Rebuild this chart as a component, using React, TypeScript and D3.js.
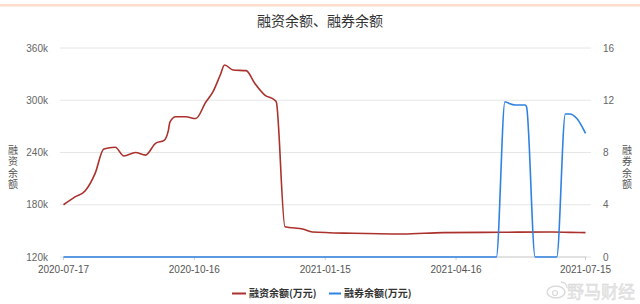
import React from "react";
import * as d3 from "d3";

const W = 640;
const H = 304;

const titleText = "融资余额、融券余额";
const leftAxisTitle = "融资余额";
const rightAxisTitle = "融券余额";
const legendLabels = ["融资余额(万元)", "融券余额(万元)"];
const xTickDates = ["2020-07-17", "2020-10-16", "2021-01-15", "2021-04-16", "2021-07-15"];
const leftTicks = [120000, 180000, 240000, 300000, 360000];
const rightTicks = [0, 4, 8, 12, 16];

// 融资余额 (万元)
const financeDates = [
  "2020-07-17", "2020-07-25", "2020-08-01", "2020-08-08", "2020-08-14", "2020-08-22",
  "2020-08-28", "2020-09-05", "2020-09-12", "2020-09-19", "2020-09-25", "2020-09-28",
  "2020-09-29", "2020-10-03", "2020-10-10", "2020-10-17", "2020-10-24", "2020-10-29",
  "2020-11-03", "2020-11-06", "2020-11-12", "2020-11-21", "2020-11-27", "2020-12-04",
  "2020-12-11", "2020-12-12", "2020-12-18", "2020-12-31", "2021-01-06", "2021-02-03",
  "2021-03-10", "2021-04-07", "2021-05-18", "2021-06-22", "2021-07-04", "2021-07-15",
];
const financeValues = [
  180000, 189000, 195800, 216000, 244000, 246000,
  236000, 240000, 237000, 250500, 254000, 266000,
  275000, 281000, 281000, 279000, 298000, 310000,
  329000, 340500, 334700, 334000, 319500, 306000,
  300000, 298000, 154800, 151800, 148700, 147200,
  146400, 148000, 148400, 148700, 148300, 148000,
];

// 融券余额 (万元)
const lendDates = [
  "2020-07-17", "2021-05-14", "2021-05-20", "2021-05-22", "2021-05-27", "2021-06-03",
  "2021-06-04", "2021-06-10", "2021-06-25", "2021-07-01", "2021-07-04", "2021-07-09",
  "2021-07-15",
];
const lendValues = [0, 0, 11.89, 11.8, 11.64, 11.64, 11.5, 0, 0, 10.95, 10.95, 10.6, 9.47];

const RED = "#ab312c";
const BLUE = "#2f82e2";
const FONT = "'Noto Sans CJK SC', 'Noto Sans', sans-serif";
const NUM_FONT = "'Liberation Sans', Arial, sans-serif";

export default function App() {
  const parse = d3.utcParse("%Y-%m-%d");
  const plotLeft = 63.5;
  const plotRight = 585.5;
  const gridLeft = 60;
  const gridRight = 591;
  const top = 48;
  const bottom = 257;

  const x = d3
    .scaleUtc()
    .domain([parse(xTickDates[0])!, parse(xTickDates[xTickDates.length - 1])!])
    .range([plotLeft, plotRight]);
  const yL = d3.scaleLinear().domain([120000, 360000]).range([bottom, top]);
  const yR = d3.scaleLinear().domain([0, 16]).range([bottom, top]);

  const finance = financeDates.map((d, i) => ({ d: parse(d)!, v: financeValues[i] }));
  const lend = lendDates.map((d, i) => ({ d: parse(d)!, v: lendValues[i] }));

  const redLine = d3
    .line<{ d: Date; v: number }>()
    .x((p) => x(p.d))
    .y((p) => yL(p.v))
    .curve(d3.curveMonotoneX);
  const blueLine = d3
    .line<{ d: Date; v: number }>()
    .x((p) => x(p.d))
    .y((p) => yR(p.v))
    .curve(d3.curveMonotoneX);

  const fmtK = (v: number) => `${v / 1000}k`;

  const verticalTitle = (label: string, cx: number) => (
    <text
      x={cx}
      y={145}
      fontSize={10}
      fill="#555"
      style={{ writingMode: "vertical-rl", letterSpacing: "1.5px" }}
    >
      {label}
    </text>
  );

  return (
    <svg
      width={W}
      height={H}
      style={{ position: "absolute", left: 0, top: 0, display: "block", background: "#fff" }}
      fontFamily={FONT}
    >
      <rect x={0} y={0} width={W} height={H} fill="#fff" />
      <rect x={0} y={4} width={W} height={2.5} fill="#fddccb" />
      <text x={320} y={26} textAnchor="middle" fontSize={14} fill="#333">
        {titleText}
      </text>

      {leftTicks.map((t) => (
        <line key={"g" + t} x1={gridLeft} x2={gridRight} y1={yL(t)} y2={yL(t)} stroke="#e6e6e6" strokeWidth={1} />
      ))}
      {leftTicks.map((t) => (
        <text key={"l" + t} x={48} y={yL(t)} dy="0.35em" textAnchor="end" fontSize={10} fill="#666" fontFamily={NUM_FONT}>
          {fmtK(t)}
        </text>
      ))}
      {rightTicks.map((t) => (
        <text key={"r" + t} x={603} y={yR(t)} dy="0.35em" textAnchor="start" fontSize={10} fill="#666" fontFamily={NUM_FONT}>
          {t}
        </text>
      ))}

      {verticalTitle(leftAxisTitle, 13)}
      {verticalTitle(rightAxisTitle, 627)}

      <line x1={plotLeft} x2={plotRight + 1} y1={bottom} y2={bottom} stroke="#d0d0d0" />
      {xTickDates.map((d) => {
        const px = x(parse(d)!);
        return (
          <g key={"x" + d}>
            <line x1={px} x2={px} y1={bottom} y2={bottom + 3} stroke="#ccc" />
            <text x={px} y={269.5} dy="0.35em" textAnchor="middle" fontSize={10} fill="#555" fontFamily={NUM_FONT}>
              {d}
            </text>
          </g>
        );
      })}

      <path d={redLine(finance) || ""} fill="none" stroke={RED} strokeWidth={1.6} />
      <path d={blueLine(lend) || ""} fill="none" stroke={BLUE} strokeWidth={1.6} />

      <g>
        <line x1={232} x2={246} y1={293.5} y2={293.5} stroke={RED} strokeWidth={2} />
        <text x={249} y={293.5} dy="0.35em" fontSize={10} fontWeight={600} fill="#333">
          {legendLabels[0]}
        </text>
        <line x1={329} x2={341} y1={293.5} y2={293.5} stroke={BLUE} strokeWidth={2} />
        <text x={344} y={293.5} dy="0.35em" fontSize={10} fontWeight={600} fill="#333">
          {legendLabels[1]}
        </text>
      </g>

      <g opacity={0.9}>
        <ellipse cx={556} cy={292} rx={9} ry={6} fill="none" stroke="#d8d8d8" strokeWidth={1.5} />
        <circle cx={555} cy={293} r={2.5} fill="none" stroke="#d8d8d8" strokeWidth={1.2} />
        <path d="M561,282 a6,6 0 0 1 6,6" fill="none" stroke="#d8d8d8" strokeWidth={1.3} />
        <text x={567} y={292} dy="0.35em" fontSize={17} fill="#e6e6e6" stroke="#d0d0d0" strokeWidth={0.4}>
          野马财经
        </text>
      </g>
    </svg>
  );
}
